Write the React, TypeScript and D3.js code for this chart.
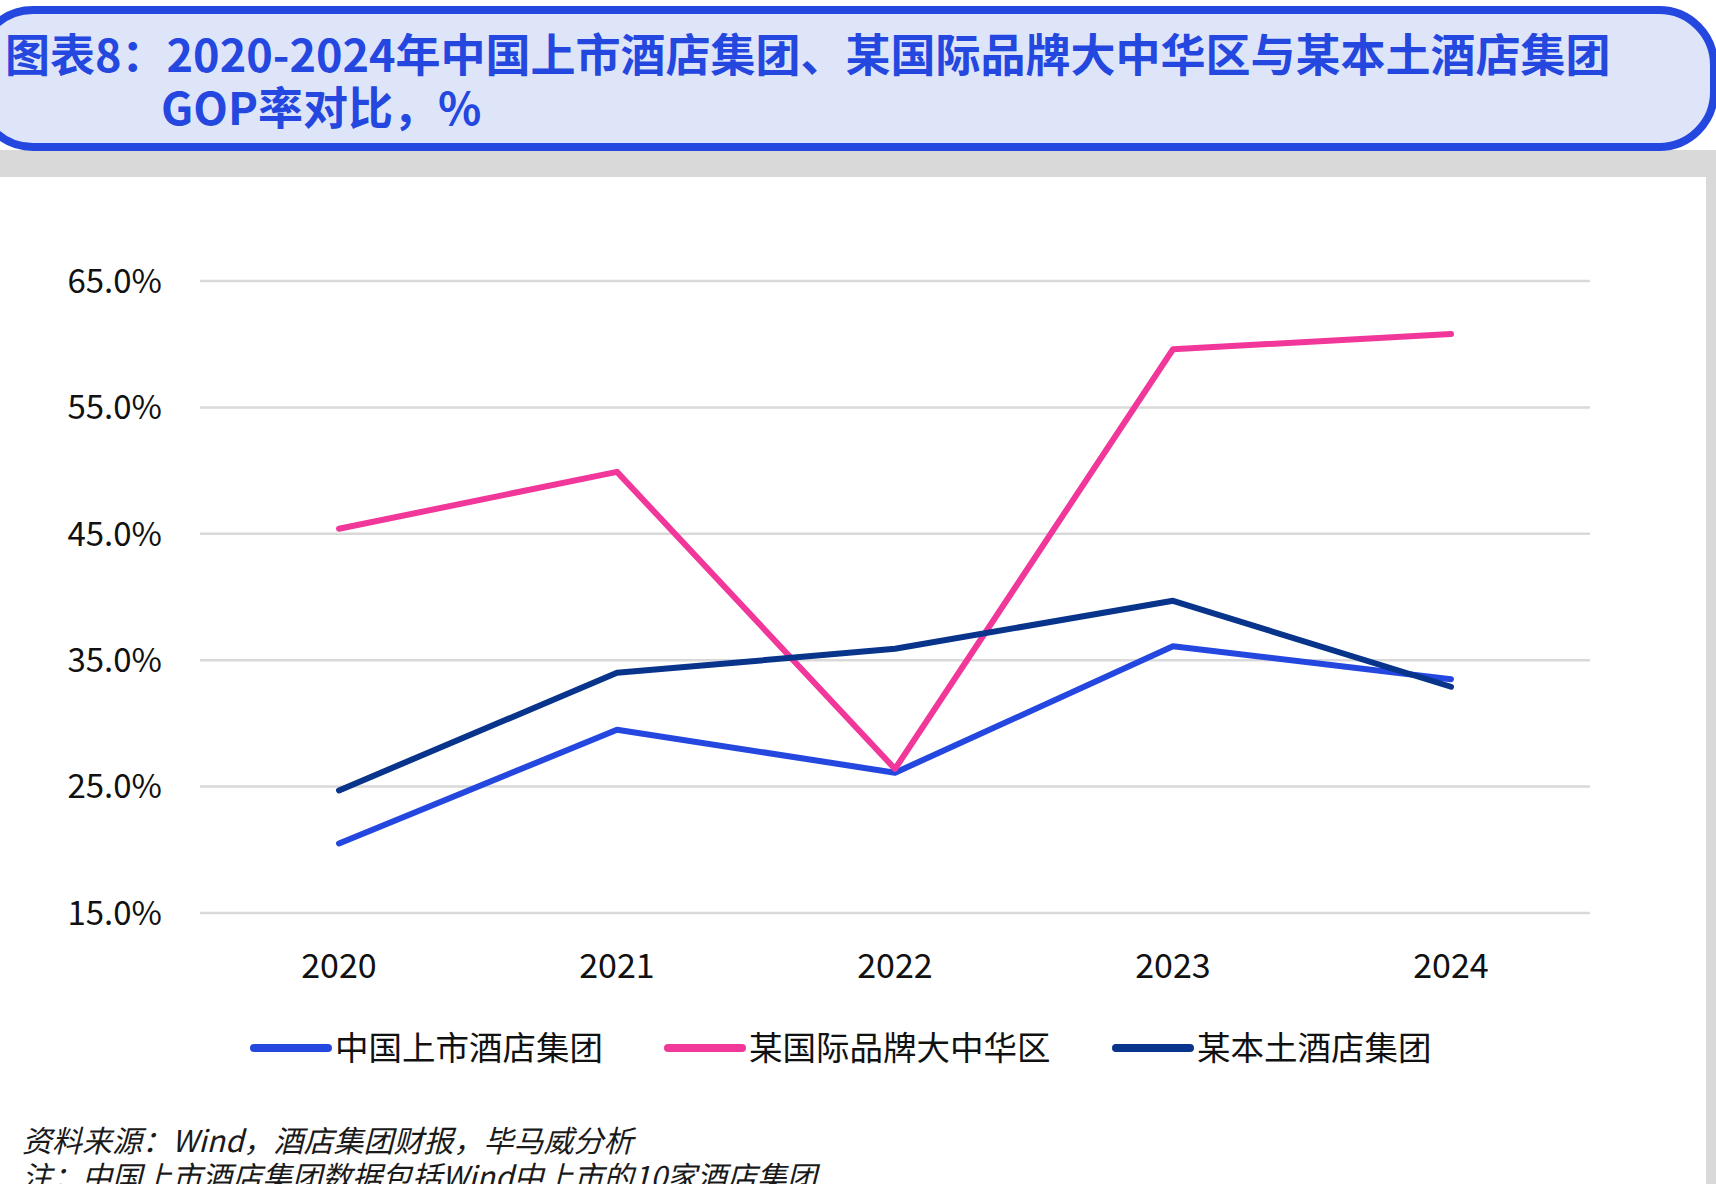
import React from "react";
import * as d3 from "d3";

// Chart data
const years = ["2020", "2021", "2022", "2023", "2024"];
const listedGroups = [20.5, 29.5, 26.1, 36.1, 33.5]; // 中国上市酒店集团
const intlBrandGC = [45.4, 49.9, 26.4, 59.6, 60.8]; // 某国际品牌大中华区
const localGroup = [24.7, 34.0, 35.9, 39.7, 32.9]; // 某本土酒店集团
const yTicks = [15, 25, 35, 45, 55, 65];

const seriesNames = ["中国上市酒店集团", "某国际品牌大中华区", "某本土酒店集团"];
const seriesColors = ["#2447E0", "#F2379B", "#08348C"];

const titleLine1 = "图表8：2020-2024年中国上市酒店集团、某国际品牌大中华区与某本土酒店集团";
const titleLine2 = "GOP率对比，%";
const noteLine1 = "资料来源：Wind，酒店集团财报，毕马威分析";
const noteLine2 = "注：中国上市酒店集团数据包括Wind中上市的10家酒店集团";

const W = 1716;
const H = 1184;
const FONT = "'Noto Sans CJK SC', 'Noto Sans', sans-serif";

export default function App() {
  const x = d3.scaleBand<string>().domain(years).range([200, 1590]).padding(0);
  const y = d3.scaleLinear().domain([15, 65]).range([913, 281]);
  const cx = (d: string) => (x(d) ?? 0) + x.bandwidth() / 2;

  const line = d3
    .line<number>()
    .x((_, i) => cx(years[i]))
    .y((v) => y(v));

  const series = [listedGroups, intlBrandGC, localGroup];

  const legendX = [254, 668, 1116];

  return (
    <svg
      width={W}
      height={H}
      style={{ position: "absolute", left: 0, top: 0, display: "block" }}
      fontFamily={FONT}
    >
      <rect x={0} y={0} width={W} height={H} fill="#ffffff" />
      {/* grey frame under the title and on the right */}
      <rect x={0} y={150} width={W} height={27} fill="#D9D9D9" />
      <rect x={1706} y={150} width={10} height={H - 150} fill="#D9D9D9" />

      {/* title banner */}
      <rect
        x={-22}
        y={10}
        width={1736}
        height={137}
        rx={55}
        ry={55}
        fill="#DEE5F8"
        stroke="#2447E0"
        strokeWidth={8}
      />
      <text x={5} y={72} fontSize={45} fontWeight={700} fill="#2447E0">
        {titleLine1}
      </text>
      <text x={161} y={125} fontSize={45} fontWeight={700} fill="#2447E0">
        {titleLine2}
      </text>

      {/* gridlines and y labels */}
      {yTicks.map((t) => (
        <g key={t}>
          <line x1={200} x2={1590} y1={y(t)} y2={y(t)} stroke="#D9D9D9" strokeWidth={2.5} />
          <text
            x={162}
            y={y(t)}
            dy="0.36em"
            textAnchor="end"
            fontSize={33}
            fill="#111"
          >
            {t.toFixed(1) + "%"}
          </text>
        </g>
      ))}

      {/* x labels */}
      {years.map((yr) => (
        <text key={yr} x={cx(yr)} y={978} textAnchor="middle" fontSize={34} fill="#111">
          {yr}
        </text>
      ))}

      {/* series lines */}
      {series.map((s, i) => (
        <path
          key={seriesNames[i]}
          d={line(s) ?? ""}
          fill="none"
          stroke={seriesColors[i]}
          strokeWidth={6}
          strokeLinecap="round"
          strokeLinejoin="round"
        />
      ))}

      {/* legend */}
      {seriesNames.map((n, i) => (
        <g key={n}>
          <line
            x1={legendX[i]}
            x2={legendX[i] + 74}
            y1={1048}
            y2={1048}
            stroke={seriesColors[i]}
            strokeWidth={8}
            strokeLinecap="round"
          />
          <text x={legendX[i] + 81} y={1048} dy="0.36em" fontSize={33.5} fill="#111">
            {n}
          </text>
        </g>
      ))}

      {/* source notes */}
      <text x={22} y={1152} fontSize={30} fontStyle="italic" fill="#1a1a1a">
        {noteLine1}
      </text>
      <text x={22} y={1188} fontSize={30} fontStyle="italic" fill="#1a1a1a">
        {noteLine2}
      </text>
    </svg>
  );
}
